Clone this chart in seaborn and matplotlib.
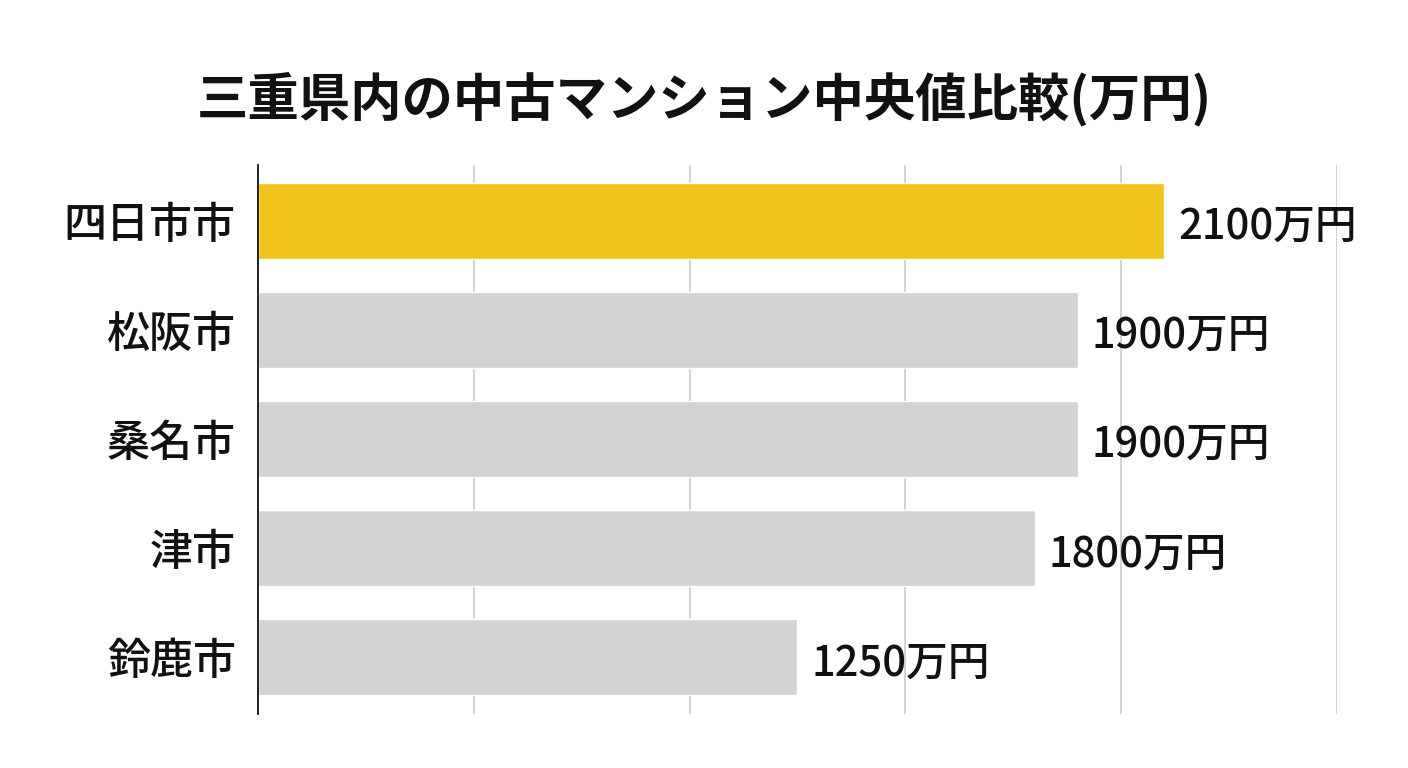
import matplotlib
matplotlib.use('Agg')
import matplotlib.pyplot as plt
import seaborn as sns
import pandas as pd

# data
cities = ['四日市市', '松阪市', '桑名市', '津市', '鈴鹿市']
prices = [2100, 1900, 1900, 1800, 1250]
bar_colors = ['#F2C318', '#D3D3D3', '#D3D3D3', '#D3D3D3', '#D3D3D3']

df = pd.DataFrame({'city': cities, 'price': prices})

sns.set_theme(style='white')
plt.rcParams['font.family'] = ['Noto Sans CJK JP', 'DejaVu Sans']

fig = plt.figure(figsize=(14.08, 7.68), dpi=100)
ax = fig.add_axes([0.1832, 0.0703, 0.7663, 0.7148])

sns.barplot(data=df, y='city', x='price', hue='city', palette=bar_colors,
            legend=False, width=0.7, saturation=1, ax=ax, zorder=2)

ax.set_xlim(0, 2500)
ax.set_ylim(4.52, -0.51)
ax.set_xticks([500, 1000, 1500, 2000, 2500])
ax.xaxis.grid(True, color='#CFCFCF', linewidth=1.3, zorder=0)
ax.set_axisbelow(True)
ax.tick_params(axis='x', labelbottom=False, length=0)
ax.tick_params(axis='y', length=0, pad=16, labelsize=31, labelcolor='#111111')
for lab in ax.get_yticklabels():
    lab.set_fontweight('medium')
ax.set_xlabel('')
ax.set_ylabel('')

for s in ['top', 'right', 'bottom']:
    ax.spines[s].set_visible(False)
ax.spines['left'].set_color('#111111')
ax.spines['left'].set_linewidth(1.3)

# value labels sit a touch below the bar centre in the original
for i, v in enumerate(prices):
    ax.annotate(f'{v}万円', xy=(v, i), xytext=(10, -4), textcoords='offset points',
                ha='left', va='center', fontsize=30, fontweight='medium',
                color='#111111')

fig.suptitle('三重県内の中古マンション中央値比較(万円)', x=0.5, y=0.907,
             fontsize=37, fontweight='bold', color='#111111')

fig.savefig('out.png', dpi=100, facecolor='white')
